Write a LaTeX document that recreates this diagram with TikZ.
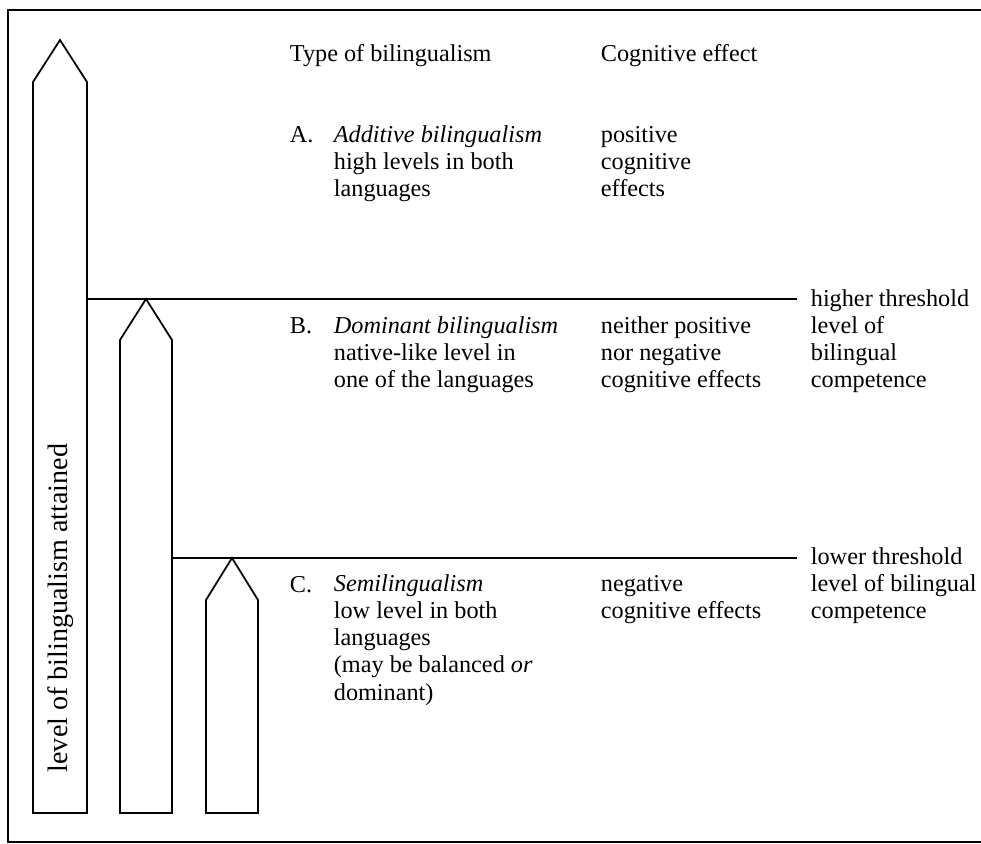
\documentclass[tikz,border=0pt]{standalone}
\usepackage{fontspec}
\setmainfont{Liberation Serif}
\begin{document}
\begin{tikzpicture}[x=0.02cm,y=-0.02cm,line width=1pt,
	txt/.style={anchor=base west,align=left,inner sep=0pt,font=\fontsize{13.8}{15.4}\selectfont}]
	\useasboundingbox (0,0) rectangle (981,844);
	% frame, open on the right
	\draw (981,10) -- (8,10) -- (8,842) -- (981,842);
	% level arrows
	\draw (33,813) -- (33,82) -- (60,40) -- (87,82) -- (87,813) -- cycle;
	\draw (120,813) -- (120,340) -- (146,299) -- (172,340) -- (172,813) -- cycle;
	\draw (206,813) -- (206,600) -- (232,558) -- (258,600) -- (258,813) -- cycle;
	\coordinate (hi) at (87,299);
	\coordinate (lo) at (172,558);
	\node[rotate=90,inner sep=0pt,font=\fontsize{16}{18}\selectfont] (lvl) at (61,608) {level of bilingualism attained};
	% headings
	\node[txt] (head1) at (289,62) {Type of bilingualism};
	\node[txt] (head2) at (600,62) {Cognitive effect};
	% rows (base = baseline of the last line)
	\node[txt] (la) at (289,143) {A.};
	\node[txt] (ta) at (333,197) {\textit{Additive bilingualism}\\high levels in both\\languages};
	\node[txt] (ea) at (600,197) {positive\\cognitive\\effects};
	\node[txt] (lb) at (289,334) {B.};
	\node[txt] (tb) at (333,388) {\textit{Dominant bilingualism}\\native-like level in\\one of the languages};
	\node[txt] (eb) at (600,388) {neither positive\\nor negative\\cognitive effects};
	\node[txt] (lc) at (289,592) {C.};
	\node[txt] (tc) at (333,700) {\textit{Semilingualism}\\low level in both\\languages\\(may be balanced \textit{or}\\dominant)};
	\node[txt] (ec) at (600,619) {negative\\cognitive effects};
	% thresholds
	\node[txt] (hilab) at (810,388) {higher threshold\\level of\\bilingual\\competence};
	\node[txt] (lolab) at (810,619) {lower threshold\\level of bilingual\\competence};
	\draw[shorten >=0.26cm] (hi) -- (hi -| hilab.west);
	\draw[shorten >=0.26cm] (lo) -- (lo -| lolab.west);
\end{tikzpicture}
\end{document}
